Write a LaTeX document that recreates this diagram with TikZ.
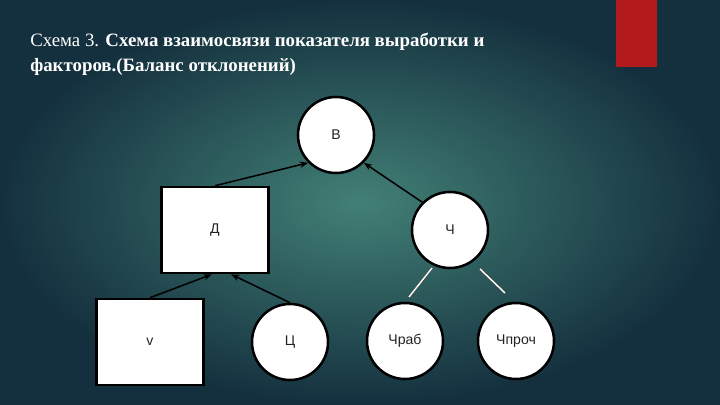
\documentclass[tikz,border=0pt]{standalone}
\usepackage{fontspec}
\setmainfont{Liberation Serif}
\setsansfont{Liberation Sans}
\usepackage{xcolor}
\usepackage{tikz}
\usetikzlibrary{arrows.meta,calc}

\definecolor{bgin}{RGB}{66,128,118}
\definecolor{bgout}{RGB}{20,48,62}
\definecolor{barred}{RGB}{178,26,28}
\definecolor{labelgray}{RGB}{35,35,35}

\begin{document}
\begin{tikzpicture}[
    x=0.025cm, y=-0.025cm,
    box/.style={rectangle, draw, line width=1.8pt, fill=white, minimum width=2.675cm, minimum height=2.15cm,
        text=labelgray, font=\sffamily\fontsize{10}{12}\selectfont},
    circ/.style={circle, draw, line width=1.8pt, fill=white, minimum size=1.9cm, inner sep=0pt,
        text=labelgray, font=\sffamily\fontsize{10}{12}\selectfont},
    arrow/.style={-{Stealth[length=6pt,width=4.5pt]}, line width=1.1pt},
    link/.style={draw=black!70, double=white, double distance=1pt, line width=0.4pt}
]
    \useasboundingbox (0,0) rectangle (720,405);

    % Background
    \shade[inner color=bgin, outer color=bgout] (0,0) rectangle (720,405);
    \fill[barred] (616,0) rectangle (657,67);

    % Title
    \node[anchor=north west, align=left, text=white, inner sep=0pt,
        font=\fontsize{13.4}{17.7}\selectfont] (title) at (30,33)
        {Схема 3. \textbf{Схема взаимосвязи показателя выработки и}\\
         \textbf{факторов.(Баланс отклонений)}};

    % Nodes
    \node[circ] (b) at (336,135) {В};
    \node[box] (d) at (215,230) {Д};
    \node[circ] (ch) at (450,230) {Ч};
    \node[box] (v) at (150,342) {v};
    \node[circ] (c) at (290,342) {Ц};
    \node[circ] (chrab) at (405,341) {Чраб};
    \node[circ] (chproch) at (516,341) {Чпроч};

    % Arrows
    \draw[arrow] (d.north) -- (b.225);
    \draw[arrow] (ch.135) -- (b.-45);
    \draw[arrow] (v.north) -- ($(d.south)+(-3,0)$);
    \draw[arrow] (c.north) -- ($(d.south)+(16,0)$);

    % Links
    \draw[link] ($(ch.center)+(-18,38)$) -- ($(chrab.center)+(4,-44)$);
    \draw[link] ($(ch.center)+(30,39)$) -- ($(chproch.center)+(-11,-48)$);
\end{tikzpicture}
\end{document}
